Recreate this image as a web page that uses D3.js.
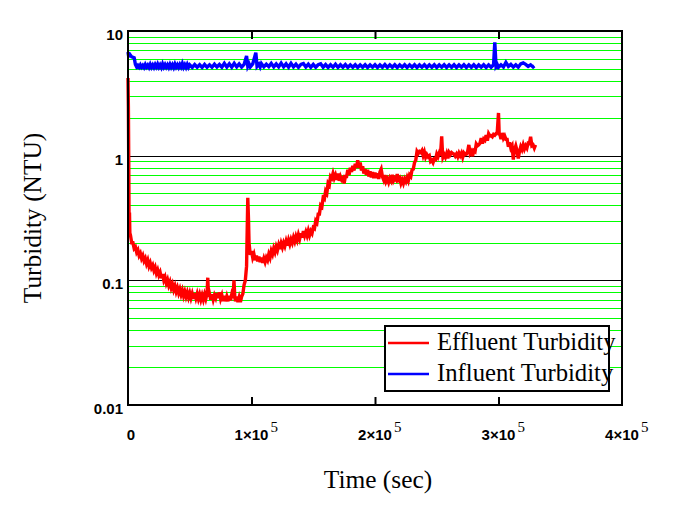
<!DOCTYPE html>
<html>
<head>
<meta charset="utf-8">
<script src="https://cdn.jsdelivr.net/npm/d3@7"></script>
<style>
html,body{margin:0;padding:0;background:#fff;}
svg{display:block;}
</style>
</head>
<body>
<svg id="chart" width="677" height="509"></svg>
<script>
// ---- data (time in thousands of seconds, turbidity in NTU) ----
const xTickValues = [0, 100000, 200000, 300000, 400000];
const xTickBase = ["0", "1\u00d710", "2\u00d710", "3\u00d710", "4\u00d710"];
const xTickExp = ["", "5", "5", "5", "5"];
const yTickValues = [0.01, 0.1, 1, 10];
const yTickLabels = ["0.01", "0.1", "1", "10"];
const seriesNames = ["Effluent Turbidity", "Influent Turbidity"];

const effluent = [
[0,4.2],[0.3,2.5],[0.6,0.9],[0.9,0.27],[1.2,0.35],[1.5,0.24],
[2,0.23],[3,0.2],[4,0.2],[5,0.18],[6,0.185],[7,0.168],[8,0.175],[9,0.158],[10,0.165],[11,0.15],
[12,0.158],[13,0.143],[14,0.15],[15,0.136],[16,0.145],[17,0.13],[18,0.138],[19,0.126],[20,0.132],[21,0.12],
[22,0.127],[23,0.114],[24,0.121],[25,0.11],[26,0.116],[27,0.104],[28,0.112],[29,0.1],[30,0.106],[31,0.095],
[32,0.101],[33,0.091],[34,0.097],[35,0.087],[36,0.093],[37,0.084],[38,0.09],[39,0.081],[40,0.087],[41,0.079],
[42,0.085],[43,0.077],[44,0.083],[45,0.075],[46,0.081],[47,0.074],[48,0.08],[49,0.073],[50,0.079],[51,0.072],
[52,0.078],[53,0.071],[54,0.079],[55,0.072],[56,0.078],[57,0.071],[58,0.077],[59,0.07],[60,0.076],[61,0.07],
[62,0.077],[63,0.071],[64,0.078],[64.6,0.105],[65.2,0.074],[66,0.078],[67,0.07],[68,0.077],[69,0.07],[70,0.076],
[71,0.072],[72,0.079],[73,0.072],[74,0.08],[75,0.071],[76,0.076],[77,0.068],[78,0.075],[79,0.068],[80,0.074],
[81,0.068],[82,0.075],[83,0.069],[84,0.077],[85,0.072],[85.8,0.1],[86.5,0.073],[87,0.068],[88,0.074],[89,0.067],
[90,0.073],[91,0.067],[92,0.074],[93,0.078],[94,0.092],[95,0.1],[96,0.13],[97,0.46],[97.6,0.3],[98,0.2],
[99,0.16],[100,0.172],[101,0.152],[102,0.162],[103,0.145],[104,0.158],[105,0.142],[106,0.155],[107,0.14],[108,0.152],
[109,0.138],[110,0.15],[111,0.14],[112,0.152],[113,0.145],[114,0.162],[115,0.152],[116,0.172],[117,0.162],[118,0.18],
[119,0.168],[120,0.186],[121,0.174],[122,0.192],[123,0.178],[124,0.198],[125,0.184],[126,0.2],[127,0.188],[128,0.206],
[129,0.19],[130,0.21],[131,0.195],[132,0.213],[133,0.2],[134,0.22],[135,0.205],[136,0.225],[137,0.21],[138,0.232],
[139,0.215],[140,0.238],[141,0.22],[142,0.248],[143,0.228],[144,0.245],[145,0.228],[146,0.25],[147,0.23],[148,0.248],
[149,0.238],[150,0.265],[151,0.26],[152,0.3],[153,0.29],[154,0.34],[155,0.34],[156,0.4],[157,0.39],[158,0.46],
[159,0.45],[160,0.52],[161,0.5],[162,0.6],[163,0.58],[164,0.68],[165,0.66],[166,0.72],[167,0.66],[168,0.7],
[169,0.64],[170,0.72],[171,0.63],[172,0.68],[173,0.64],[174,0.66],[175,0.6],[176,0.68],[177,0.68],[178,0.77],
[179,0.7],[180,0.8],[181,0.74],[182,0.83],[183,0.76],[184,0.86],[185,0.8],[186,0.92],[187,0.8],[188,0.88],
[189,0.76],[190,0.82],[191,0.72],[192,0.78],[193,0.7],[194,0.77],[195,0.68],[196,0.75],[197,0.67],[198,0.74],
[199,0.66],[200,0.73],[201,0.66],[202,0.72],[203,0.65],[204,0.74],[205,0.78],[206,0.68],[207,0.64],[208,0.7],
[209,0.62],[210,0.65],[211,0.61],[212,0.66],[213,0.63],[214,0.7],[215,0.63],[216,0.66],[217,0.64],[218,0.71],
[219,0.64],[220,0.66],[221,0.6],[222,0.64],[223,0.6],[224,0.65],[225,0.62],[226,0.67],[227,0.63],[228,0.7],
[229,0.68],[230,0.77],[231,0.78],[232,0.88],[233,0.92],[234,1.08],[235,1.04],[236,1.08],[237,1.06],[238,1.1],
[239,1.0],[240,1.07],[241,0.97],[242,1.02],[243,0.98],[244,1.0],[245,0.9],[246,0.92],[247,0.88],[248,0.94],
[249,0.93],[250,1.03],[251,0.98],[252,1.05],[253,1.0],[254,1.43],[254.6,1.08],[255,0.97],[256,1.02],[257,0.97],
[258,1.04],[259,0.95],[260,1.06],[261,1.02],[262,1.06],[263,1.04],[264,1.03],[265,0.99],[266,1.03],[267,0.98],
[268,1.05],[269,1.0],[270,1.05],[271,0.97],[272,1.05],[273,1.02],[274,1.03],[275,1.08],[276,1.22],[277,1.04],
[278,1.08],[279,0.99],[280,1.1],[281,1.08],[282,1.24],[283,1.2],[284,1.22],[285,1.26],[286,1.38],[287,1.25],
[288,1.36],[289,1.33],[290,1.46],[291,1.32],[292,1.5],[293,1.44],[294,1.45],[295,1.42],[296,1.48],[297,1.46],
[298,1.5],[299,1.55],[300,2.2],[300.6,1.45],[301,1.5],[302,1.36],[303,1.52],[304,1.38],[305,1.44],[306,1.35],
[307,1.35],[308,1.18],[309,1.28],[310,1.15],[311,1.2],[312,0.93],[313,1.12],[314,1.2],[315,1.1],[316,0.95],
[317,1.08],[318,1.18],[319,1.12],[320,1.22],[321,1.13],[322,1.2],[323,1.15],[324,1.26],[325,1.25],[326,1.42],
[327,1.2],[328,1.22],[329,1.15],[330,1.22]
];

const influent = [
[0,6.8],[0.5,6.3],[1.5,6.5],[3,6.2],[5,6.1],[6,5.4],[7,5.15],[8,5.3],[9,5.12],[10,5.35],
[11,5.12],[12,5.3],[13,5.1],[14,5.38],[15,5.14],[16,5.32],[17,5.1],[18,5.4],[19,5.12],[20,5.34],
[21,5.1],[22,5.38],[23,5.14],[24,5.42],[25,5.12],[26,5.35],[27,5.1],[28,5.45],[29,5.14],[30,5.38],
[31,5.12],[32,5.35],[33,5.1],[34,5.4],[35,5.12],[36,5.36],[37,5.1],[38,5.42],[39,5.13],[40,5.35],
[41,5.1],[42,5.38],[43,5.14],[44,5.48],[45,5.12],[46,5.36],[47,5.1],[48,5.4],[49,5.12],[50,5.35],
[52,5.1],[54,5.38],[56,5.12],[58,5.36],[60,5.1],[62,5.4],[64,5.12],[66,5.35],[68,5.12],[70,5.42],
[72,5.14],[74,5.38],[76,5.12],[78,5.5],[80,5.14],[82,5.45],[84,5.12],[86,5.5],[88,5.15],[90,5.45],
[92,5.14],[94,5.4],[96,6.3],[97,5.2],[98,5.45],[99,5.15],[101,5.45],[103.5,6.7],[104.5,5.2],[106,5.42],
[107,5.15],[108,5.48],[110,5.15],[112,5.42],[114,5.18],[116,5.5],[118,5.15],[120,5.45],[122,5.15],[124,5.52],
[126,5.15],[128,5.45],[130,5.12],[132,5.5],[134,5.15],[136,5.42],[138,5.12],[140,5.4],[142,5.48],[144,5.14],
[146,5.42],[148,5.12],[150,5.4],[152,5.12],[154,5.36],[156,5.45],[158,5.12],[160,5.38],[162,5.1],[164,5.36],
[166,5.12],[168,5.42],[170,5.1],[172,5.36],[174,5.12],[176,5.38],[178,5.1],[180,5.35],[182,5.12],[184,5.36],
[186,5.1],[188,5.35],[190,5.12],[192,5.36],[194,5.1],[196,5.34],[198,5.12],[200,5.36],[202,5.1],[204,5.34],
[206,5.12],[208,5.38],[210,5.1],[212,5.35],[214,5.12],[216,5.36],[218,5.1],[220,5.34],[222,5.12],[224,5.36],
[226,5.1],[228,5.35],[230,5.12],[232,5.36],[234,5.1],[236,5.34],[238,5.12],[240,5.36],[242,5.1],[244,5.35],
[246,5.12],[248,5.36],[250,5.1],[252,5.34],[254,5.12],[256,5.36],[258,5.1],[260,5.35],[262,5.12],[264,5.36],
[266,5.1],[268,5.34],[270,5.12],[272,5.36],[274,5.1],[276,5.35],[278,5.12],[280,5.36],[282,5.1],[284,5.34],
[286,5.12],[288,5.36],[290,5.1],[292,5.35],[294,5.12],[296,5.36],[297,8.1],[298,5.2],[299,5.38],[300,5.12],
[302,5.36],[304,5.14],[306,5.6],[308,5.2],[310,5.4],[312,5.14],[314,5.36],[316,5.12],[318,5.45],[320,5.55],
[322,5.4],[324,5.2],[326,5.36],[328,5.15],[329,5.25]
];

// ---- layout ----
const svg = d3.select("#chart");
const pLeft = 128, pRight = 622, pTop = 31, pBottom = 405;

const x = d3.scaleLinear().domain([0, 400000]).range([pLeft, pRight]);
const y = d3.scaleLog().domain([0.01, 10]).range([pBottom, pTop]);

// minor gridlines (green)
const minor = [];
[0.01, 0.1, 1].forEach(d => { for (let k = 2; k <= 9; k++) minor.push(k * d); });
svg.append("g").selectAll("line").data(minor).join("line")
  .attr("x1", pLeft).attr("x2", pRight)
  .attr("y1", d => Math.round(y(d)) + 0.5).attr("y2", d => Math.round(y(d)) + 0.5)
  .attr("stroke", "#00ff00").attr("stroke-width", 1);

// decade gridlines (black)
svg.append("g").selectAll("line").data([0.1, 1]).join("line")
  .attr("x1", pLeft).attr("x2", pRight)
  .attr("y1", d => Math.round(y(d)) + 0.5).attr("y2", d => Math.round(y(d)) + 0.5)
  .attr("stroke", "#000").attr("stroke-width", 1);

// series
const line = d3.line().x(d => x(d[0] * 1000)).y(d => y(d[1]));
svg.append("path").datum(influent).attr("d", line)
  .attr("fill", "none").attr("stroke", "#0000ff").attr("stroke-width", 3.4).attr("stroke-linejoin", "miter");
svg.append("path").datum(effluent).attr("d", line)
  .attr("fill", "none").attr("stroke", "#ff0000").attr("stroke-width", 3.4).attr("stroke-linejoin", "miter");

// frame
svg.append("rect").attr("x", pLeft).attr("y", pTop)
  .attr("width", pRight - pLeft).attr("height", pBottom - pTop)
  .attr("fill", "none").attr("stroke", "#000").attr("stroke-width", 2);

// ticks (inward) on bottom and top
const tickVals = xTickValues.slice(1, 4);
const gb = svg.append("g").attr("transform", `translate(0,${pBottom})`)
  .call(d3.axisBottom(x).tickValues(tickVals).tickSizeInner(-8).tickSizeOuter(0).tickFormat(""));
const gt = svg.append("g").attr("transform", `translate(0,${pTop})`)
  .call(d3.axisTop(x).tickValues(tickVals).tickSizeInner(-8).tickSizeOuter(0).tickFormat(""));
[gb, gt].forEach(g => {
  g.select(".domain").remove();
  g.selectAll(".tick line").attr("stroke", "#000").attr("stroke-width", 2);
});

// y tick labels
svg.append("g").selectAll("text").data(yTickValues).join("text")
  .attr("x", pLeft - 5).attr("y", d => y(d) + 9)
  .attr("text-anchor", "end")
  .attr("font-family", "Liberation Sans, Arial, sans-serif")
  .attr("font-weight", "bold").attr("font-size", 15)
  .text((d, i) => yTickLabels[i]);

// x tick labels
svg.append("g").selectAll("text").data(xTickValues).join("text")
  .attr("x", (d, i) => x(d) + (i === 0 ? 3 : 0)).attr("y", 440)
  .attr("text-anchor", "middle")
  .attr("font-family", "Liberation Sans, Arial, sans-serif")
  .attr("font-weight", "bold").attr("font-size", 15)
  .text((d, i) => xTickBase[i]);
// superscripts placed right after base text
svg.append("g").selectAll("text").data(xTickValues).join("text")
  .attr("x", d => x(d) + 19)
  .attr("y", 432)
  .attr("font-family", "Liberation Serif, Times New Roman, serif")
  .attr("font-size", 15)
  .text((d, i) => xTickExp[i]);

// axis titles
svg.append("text").attr("x", 378).attr("y", 488)
  .attr("text-anchor", "middle")
  .attr("font-family", "Liberation Serif, Times New Roman, serif").attr("font-size", 25.4)
  .text("Time (sec)");
svg.append("text").attr("transform", "translate(41,218) rotate(-90)")
  .attr("text-anchor", "middle")
  .attr("font-family", "Liberation Serif, Times New Roman, serif").attr("font-size", 25.4)
  .text("Turbidity (NTU)");

// legend
const lg = svg.append("g");
lg.append("rect").attr("x", 385).attr("y", 326).attr("width", 224).attr("height", 65)
  .attr("fill", "#fff").attr("stroke", "#000").attr("stroke-width", 2);
const legColors = ["#ff0000", "#0000ff"];
const legY = [343, 374];
seriesNames.forEach((n, i) => {
  lg.append("line").attr("x1", 388).attr("x2", 429).attr("y1", legY[i]).attr("y2", legY[i])
    .attr("stroke", legColors[i]).attr("stroke-width", 2.6);
  lg.append("text").attr("x", 437).attr("y", legY[i] + 7)
    .attr("font-family", "Liberation Serif, Times New Roman, serif").attr("font-size", 24.7)
    .text(n);
});
</script>
</body>
</html>
